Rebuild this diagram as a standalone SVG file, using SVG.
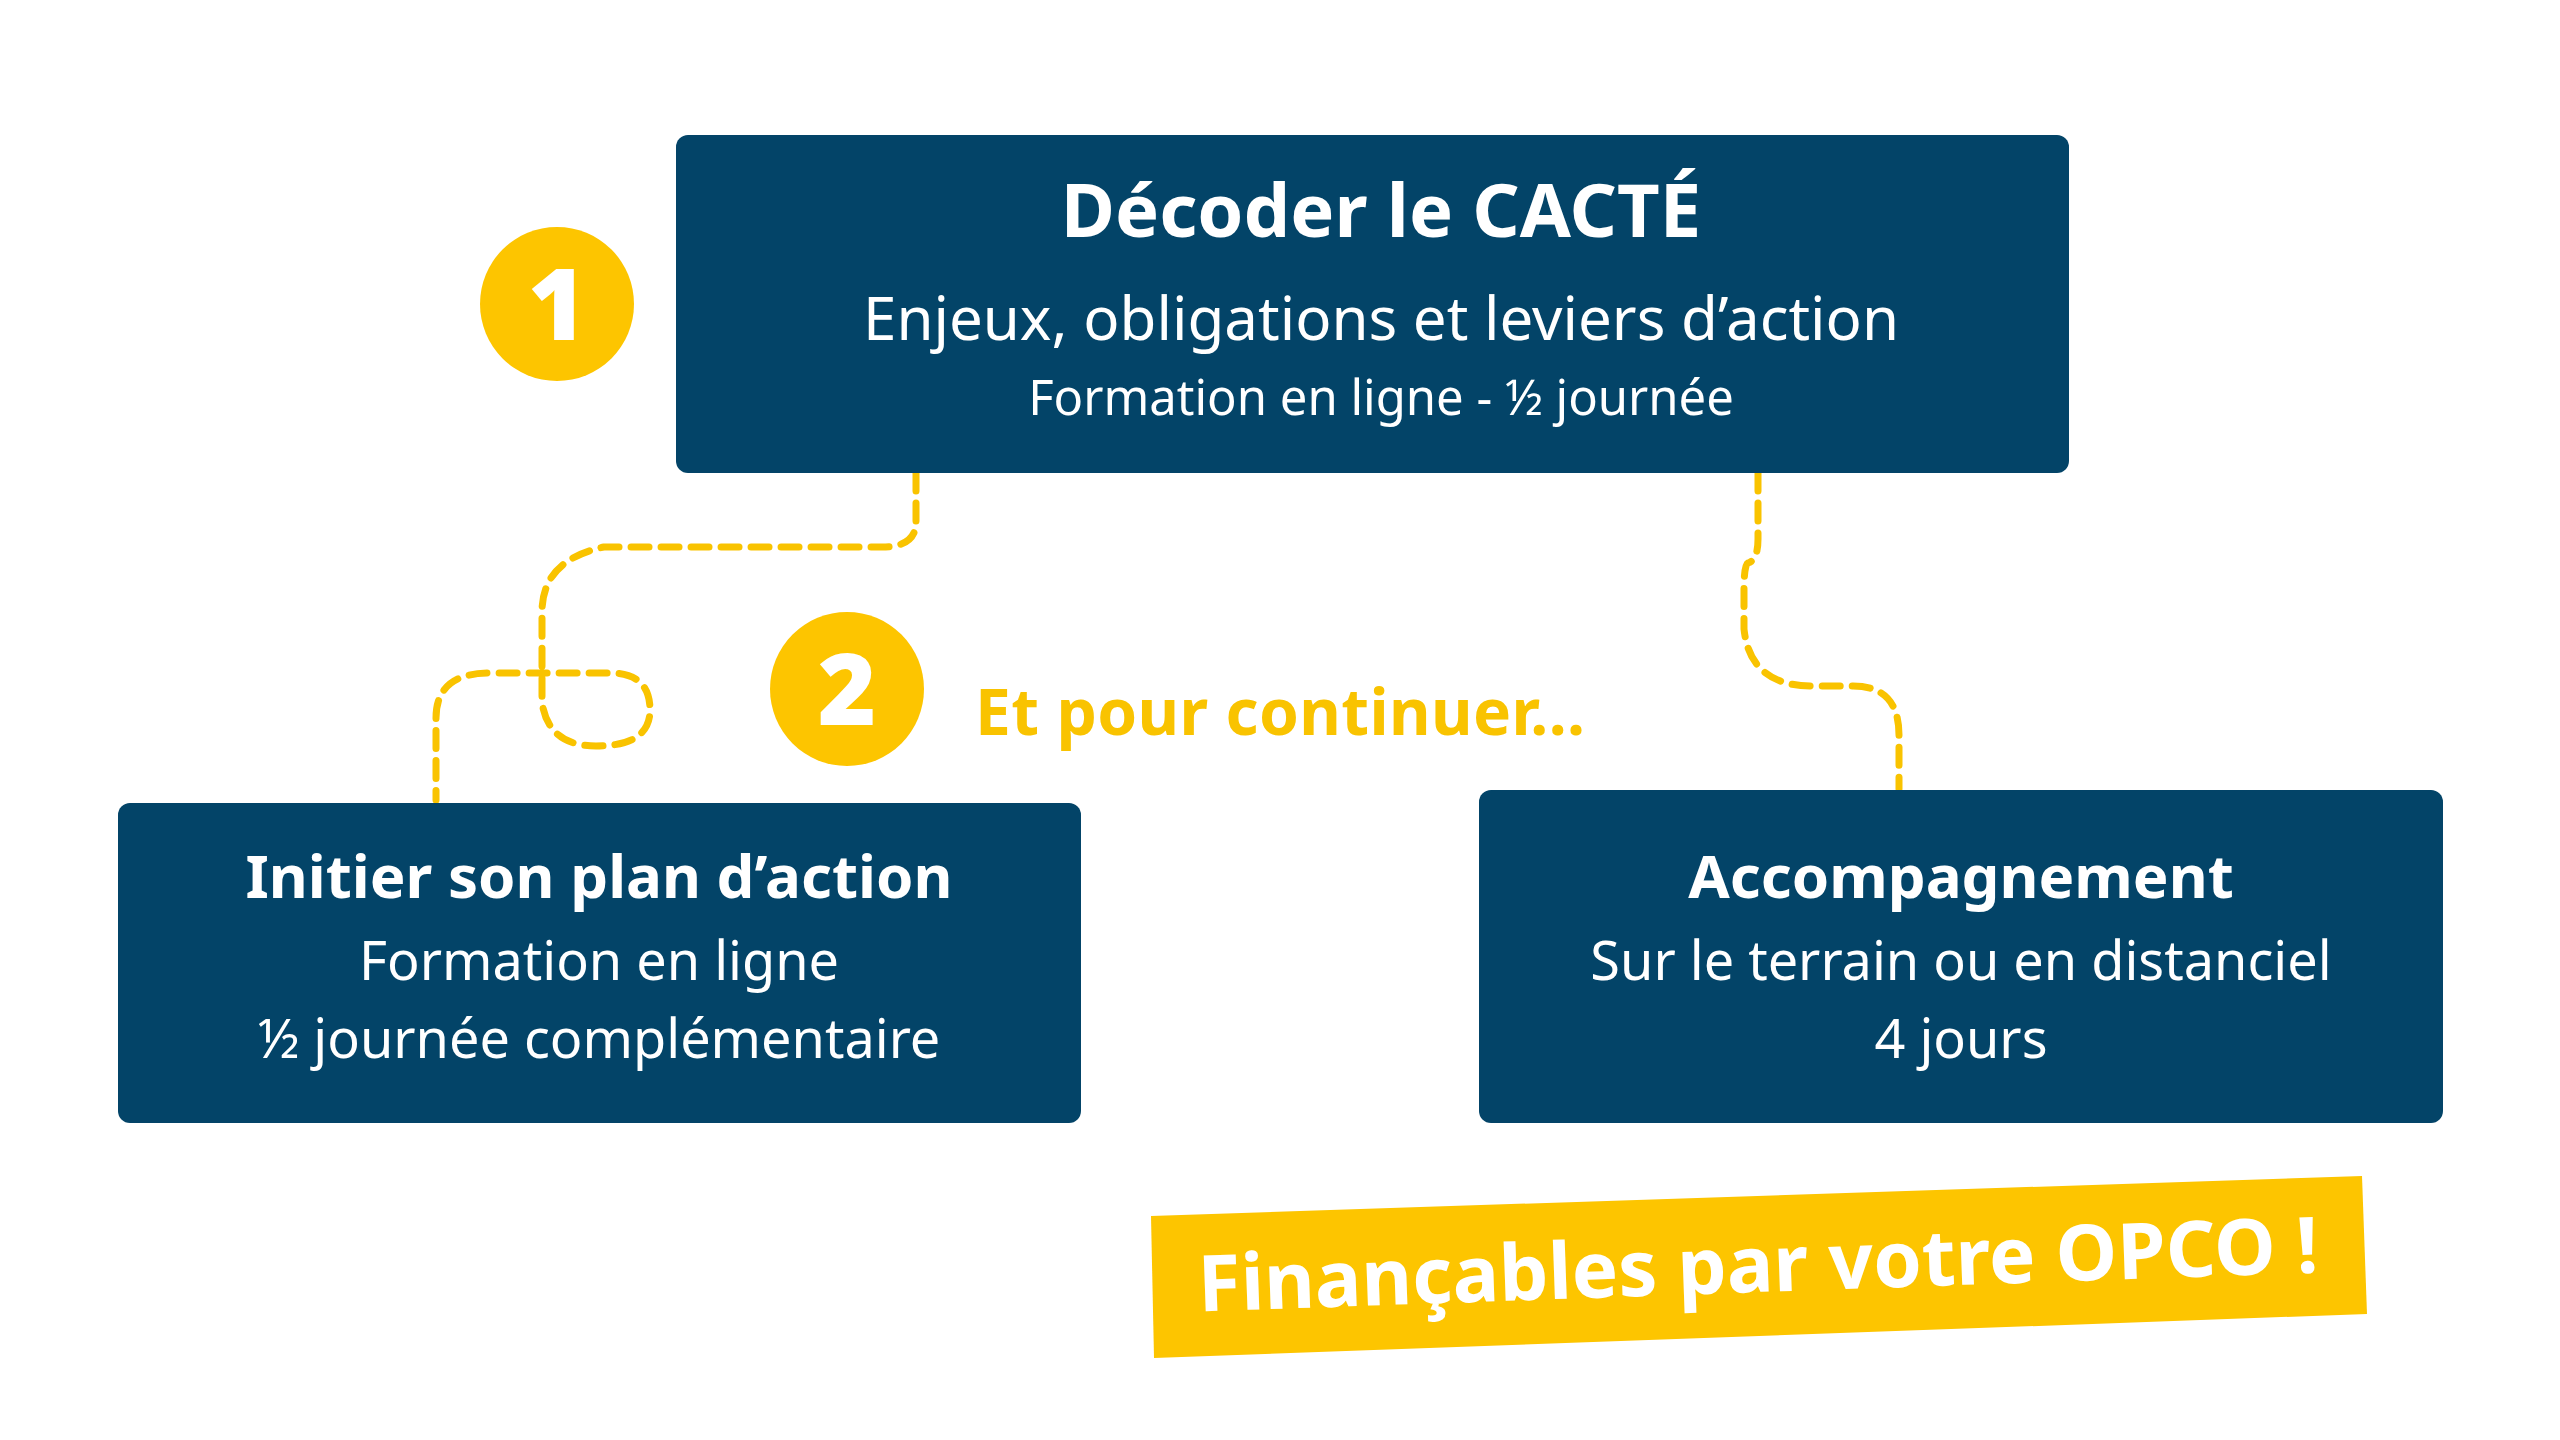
<svg xmlns="http://www.w3.org/2000/svg" width="2560" height="1440" viewBox="0 0 2560 1440">
<style>
.box{fill:#034468}
.t{font-family:"Noto Sans","Open Sans",sans-serif;fill:#fff;text-anchor:middle}
.b{font-weight:700}
.dash{fill:none;stroke:#F9C300;stroke-width:7;stroke-dasharray:18 12;stroke-linecap:round}
.circ{fill:#FDC500}
.num{font-family:"Noto Sans",sans-serif;font-weight:900;fill:#fff;text-anchor:middle;font-size:100px}
</style>
<rect width="2560" height="1440" fill="#fff"/>
<g id="connectors">
<path class="dash" d="M916,473 L916,522 Q916,547 882,547 L604,547 Q542,560 542,612 L542,702 Q548,746 596,746 Q650,746 650,710 Q650,673 610,673 L490,673 Q436,673 436,718 L436,800"/>
<path class="dash" d="M1758,473 L1758,539 Q1758,560 1748,563 Q1744,565 1744,590 L1744,629 Q1750,686 1812,686 L1853,686 Q1899,686 1899,735 L1899,789"/>
</g>
<g id="node1">
<rect class="box" x="676" y="135" width="1393" height="338" rx="12"/>
<text class="t b" x="1381" y="237" font-size="74">Décoder le CACTÉ</text>
<text class="t" x="1381" y="340" font-size="60">Enjeux, obligations et leviers d’action</text>
<text class="t" x="1381" y="415" font-size="49">Formation en ligne - ½ journée</text>
</g>
<g id="badge1"><circle class="circ" cx="557" cy="304" r="77"/><text class="num" x="557" y="340">1</text></g>
<g id="badge2"><circle class="circ" cx="847" cy="689" r="77"/><text class="num" x="847" y="725">2</text></g>
<g id="continue"><text x="975" y="735" font-family="Noto Sans,sans-serif" font-weight="700" font-size="64" fill="#F9C300" textLength="610">Et pour continuer...</text></g>
<g id="node2">
<rect class="box" x="118" y="803" width="963" height="320" rx="12"/>
<text class="t b" x="599" y="898" font-size="60">Initier son plan d’action</text>
<text class="t" x="599" y="980" font-size="54">Formation en ligne</text>
<text class="t" x="599" y="1058" font-size="54">½ journée complémentaire</text>
</g>
<g id="node3">
<rect class="box" x="1479" y="790" width="964" height="333" rx="12"/>
<text class="t b" x="1961" y="898" font-size="60">Accompagnement</text>
<text class="t" x="1961" y="980" font-size="54">Sur le terrain ou en distanciel</text>
<text class="t" x="1961" y="1058" font-size="54">4 jours</text>
</g>
<g id="banner">
<polygon points="1151,1216 2362,1176 2367,1314 1154,1358" fill="#FDC500"/>
<text class="t b" x="1758" y="1292" font-size="78" transform="rotate(-2 1758 1265)">Finançables par votre OPCO !</text>
</g>
</svg>
